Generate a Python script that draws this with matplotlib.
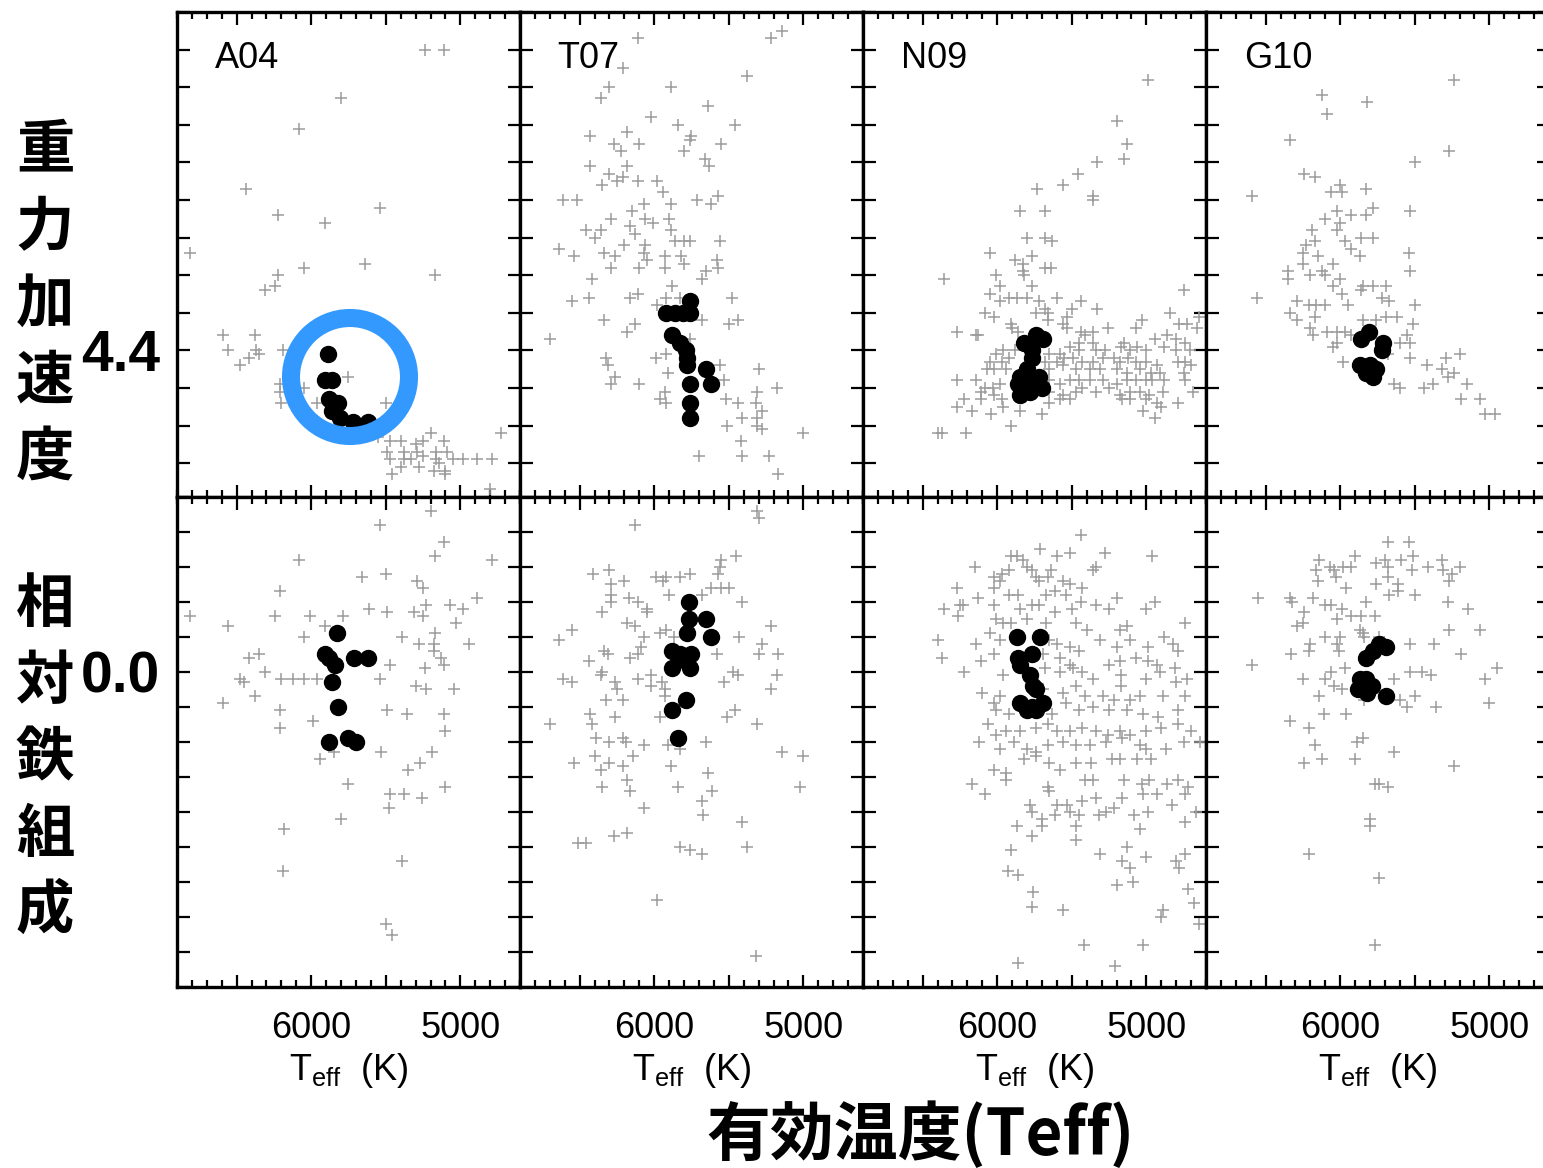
import numpy as np
import matplotlib
matplotlib.use('Agg')
import matplotlib.pyplot as plt
from matplotlib.patches import Ellipse
from matplotlib.ticker import MultipleLocator, FuncFormatter

plt.rcParams['font.family'] = ['Liberation Sans', 'DejaVu Sans']
plt.rcParams['mathtext.fontset'] = 'custom'
plt.rcParams['mathtext.rm'] = 'Liberation Sans'

# ---------------------------------------------------------------------------
# Samples: field stars (grey +) and solar twins (black dots)
# upper row: (Teff [K], log g), lower row: (Teff [K], [Fe/H])
# ---------------------------------------------------------------------------
SAMPLES = ['A04', 'T07', 'N09', 'G10']

a04_logg_field = [
    (5240, 3.60), (5110, 3.60), (5800, 3.73), (6080, 3.81), (6440, 3.97), (6220, 4.04),
    (5910, 4.06), (5540, 4.02), (6810, 4.14), (5640, 4.17), (5170, 4.20), (6050, 4.18),
    (6220, 4.20), (6240, 4.23), (6310, 4.24), (6590, 4.36), (6380, 4.36), (6560, 4.40),
    (6370, 4.40), (6350, 4.41), (6420, 4.42), (6480, 4.44), (6190, 4.40), (5750, 4.47),
    (6050, 4.50), (6210, 4.49), (6210, 4.51), (6200, 4.54), (5960, 4.54), (5500, 4.54),
    (5550, 4.63), (5470, 4.64), (5400, 4.64), (5300, 4.65), (5250, 4.64), (5200, 4.62),
    (5110, 4.64), (5490, 4.67), (5380, 4.67), (5290, 4.67), (5250, 4.68), (5160, 4.67),
    (5090, 4.67), (5470, 4.69), (5380, 4.69), (5330, 4.69), (5160, 4.69), (5140, 4.70),
    (5050, 4.69), (4980, 4.69), (4890, 4.69), (4790, 4.69), (4730, 4.62), (5400, 4.71),
    (5280, 4.71), (5180, 4.72), (5100, 4.72), (5460, 4.73), (5100, 4.73), (4800, 4.77),
]
a04_logg_twins = [
    (5890, 4.41), (5910, 4.48), (5860, 4.48), (5880, 4.53), (5820, 4.54), (5860, 4.56),
    (5810, 4.58), (5720, 4.59), (5620, 4.59),
]

t07_logg_field = [
    (6110, 3.57), (5220, 3.57), (5140, 3.55), (6210, 3.65), (5380, 3.67), (6300, 3.70),
    (5890, 3.70), (6360, 3.73), (5640, 3.75), (6020, 3.78), (5840, 3.80), (5460, 3.80),
    (6430, 3.83), (6180, 3.82), (5750, 3.83), (5760, 3.84), (6270, 3.85), (6100, 3.85),
    (5550, 3.85), (6220, 3.87), (5800, 3.87), (5660, 3.89), (6430, 3.91), (6180, 3.91),
    (5630, 3.91), (6300, 3.93), (6210, 3.94), (6250, 3.95), (6110, 3.95), (5980, 3.95),
    (6350, 3.96), (5940, 3.98), (5570, 3.99), (6610, 4.00), (6520, 4.00), (6070, 4.01),
    (5890, 4.01), (5710, 4.00), (5620, 4.01), (6150, 4.03), (6290, 4.05), (6060, 4.05),
    (6010, 4.06), (5900, 4.05), (6160, 4.07), (6130, 4.09), (6460, 4.08), (6360, 4.08),
    (5890, 4.08), (6400, 4.10), (6200, 4.12), (6060, 4.12), (5860, 4.11), (5800, 4.11),
    (5760, 4.11), (5560, 4.11), (6640, 4.13), (6340, 4.14), (6070, 4.14), (6540, 4.15),
    (6260, 4.15), (6050, 4.16), (5930, 4.15), (5820, 4.15), (5580, 4.16), (6290, 4.18),
    (6100, 4.18), (5930, 4.18), (5800, 4.17), (5570, 4.18), (5650, 4.19), (5680, 4.21),
    (6420, 4.21), (5880, 4.23), (6550, 4.27), (6440, 4.26), (6160, 4.26), (6110, 4.25),
    (5920, 4.26), (5830, 4.26), (5480, 4.26), (5980, 4.28), (6340, 4.32), (6130, 4.33),
    (5680, 4.32), (5500, 4.33), (5440, 4.32), (6180, 4.35), (6700, 4.37), (5760, 4.37),
    (5920, 4.41), (5990, 4.42), (6320, 4.42), (6310, 4.44), (6260, 4.47), (6290, 4.49),
    (6100, 4.49), (5910, 4.46), (5930, 4.51), (5560, 4.44), (5530, 4.48), (5300, 4.45),
    (5310, 4.51), (5180, 4.50), (5960, 4.53), (5920, 4.54), (5520, 4.53), (5440, 4.54),
    (5320, 4.54), (5280, 4.56), (5410, 4.58), (5310, 4.58), (5310, 4.60), (5280, 4.61),
    (5510, 4.60), (5000, 4.62), (5420, 4.64), (5700, 4.68), (5410, 4.68), (5230, 4.68),
    (5170, 4.73),
]
t07_logg_twins = [
    (5760, 4.27), (5920, 4.30), (5860, 4.30), (5810, 4.30), (5760, 4.30), (5880, 4.36),
    (5830, 4.38), (5790, 4.40), (5780, 4.42), (5780, 4.44), (5650, 4.45), (5760, 4.49),
    (5620, 4.49), (5760, 4.54), (5760, 4.58),
]

n09_logg_field = [
    (4990, 3.68), (5200, 3.79), (5130, 3.85), (5150, 3.89), (5330, 3.90), (5460, 3.93),
    (5560, 3.96), (5730, 3.97), (5360, 3.99), (5360, 4.00), (5850, 4.03), (5680, 4.03),
    (5800, 4.10), (5680, 4.10), (5630, 4.11), (6050, 4.14), (5770, 4.15), (5880, 4.16),
    (5830, 4.17), (5830, 4.19), (5820, 4.20), (5680, 4.18), (5640, 4.18), (6360, 4.21),
    (6010, 4.20), (5980, 4.23), (5770, 4.23), (6050, 4.25), (5920, 4.26), (5870, 4.26),
    (5800, 4.26), (5720, 4.27), (5600, 4.26), (5440, 4.27), (5980, 4.27), (6080, 4.30),
    (6020, 4.31), (5680, 4.29), (5740, 4.30), (5660, 4.30), (5660, 4.32), (5500, 4.29),
    (5330, 4.29), (5530, 4.31), (5260, 4.34), (5030, 4.32), (5070, 4.34), (4750, 4.24),
    (4840, 4.30), (4650, 4.31), (4780, 4.33), (4730, 4.33), (4660, 4.34), (6270, 4.35),
    (6140, 4.36), (6130, 4.36), (5910, 4.33), (5900, 4.34), (5860, 4.35), (5560, 4.33),
    (5530, 4.34), (5440, 4.35), (5410, 4.36), (5360, 4.35), (5450, 4.38), (5360, 4.38),
    (5150, 4.38), (4940, 4.37), (4860, 4.36), (4800, 4.37), (4740, 4.38), (4880, 4.39),
    (4800, 4.40), (4710, 4.40), (5170, 4.39), (5060, 4.39), (5110, 4.40), (5000, 4.40),
    (5510, 4.39), (5450, 4.40), (5340, 4.40), (5280, 4.40), (5580, 4.41), (5650, 4.41),
    (5960, 4.40), (6010, 4.41), (6050, 4.43), (5970, 4.43), (5920, 4.42), (5880, 4.40),
    (5680, 4.43), (5600, 4.43), (5550, 4.42), (5490, 4.42), (5430, 4.43), (5360, 4.43),
    (5290, 4.42), (5220, 4.42), (5180, 4.43), (5120, 4.42), (5070, 4.43), (5000, 4.43),
    (4930, 4.44), (4790, 4.43), (4740, 4.43), (4700, 4.44), (6070, 4.45), (6020, 4.45),
    (5940, 4.45), (5650, 4.45), (5560, 4.44), (5470, 4.45), (5380, 4.45), (5310, 4.45),
    (5200, 4.45), (5130, 4.46), (5040, 4.45), (4970, 4.46), (4910, 4.46), (4750, 4.46),
    (6270, 4.48), (6140, 4.48), (6080, 4.50), (6030, 4.50), (5980, 4.49), (5650, 4.48),
    (5580, 4.49), (5510, 4.48), (5450, 4.48), (5380, 4.48), (5290, 4.48), (5200, 4.49),
    (5130, 4.48), (5070, 4.48), (5000, 4.48), (4960, 4.48), (4880, 4.48), (4740, 4.48),
    (6110, 4.51), (6020, 4.52), (5970, 4.53), (5650, 4.51), (5560, 4.52), (5470, 4.51),
    (5430, 4.50), (5340, 4.51), (5250, 4.50), (5180, 4.52), (5110, 4.51), (5040, 4.51),
    (4980, 4.52), (4890, 4.51), (4690, 4.51), (6220, 4.53), (6270, 4.55), (6110, 4.53),
    (5960, 4.55), (5650, 4.54), (5580, 4.53), (5510, 4.53), (5160, 4.53), (5110, 4.53),
    (5000, 4.53), (4930, 4.54), (4790, 4.54), (6170, 4.56), (6040, 4.57), (5850, 4.56),
    (5700, 4.57), (5020, 4.56), (4900, 4.55), (4940, 4.58), (5910, 4.60), (6400, 4.62),
    (6370, 4.62), (6210, 4.62),
]
n09_logg_twins = [
    (5740, 4.36), (5690, 4.37), (5820, 4.38), (5770, 4.40), (5770, 4.42), (5800, 4.45),
    (5850, 4.47), (5720, 4.47), (5780, 4.48), (5860, 4.49), (5700, 4.50), (5850, 4.52),
    (5780, 4.51),
]

g10_logg_field = [
    (5240, 3.68), (6120, 3.72), (5820, 3.74), (6090, 3.77), (6340, 3.84), (5270, 3.87),
    (5500, 3.90), (6590, 3.99), (6240, 3.93), (6170, 3.94), (6000, 3.96), (6060, 3.98),
    (5990, 3.98), (5830, 3.97), (6020, 4.03), (5930, 4.04), (5830, 4.04), (5780, 4.02),
    (5530, 4.03), (6100, 4.05), (6000, 4.06), (6020, 4.08), (6190, 4.08), (6170, 4.11),
    (5970, 4.11), (5860, 4.10), (5780, 4.10), (5930, 4.13), (6230, 4.12), (6250, 4.14),
    (6150, 4.15), (5870, 4.15), (5540, 4.14), (6250, 4.17), (6050, 4.17), (6350, 4.19),
    (6350, 4.21), (6200, 4.20), (6120, 4.19), (6100, 4.20), (5530, 4.19), (6000, 4.21),
    (6050, 4.23), (5990, 4.25), (5850, 4.23), (5780, 4.23), (5690, 4.23), (5860, 4.24),
    (5720, 4.26), (5670, 4.27), (6560, 4.26), (6290, 4.27), (6210, 4.28), (6160, 4.28),
    (6100, 4.28), (5950, 4.28), (5500, 4.28), (6340, 4.30), (6290, 4.32), (6170, 4.31),
    (5850, 4.32), (5760, 4.32), (5690, 4.31), (5620, 4.31), (5510, 4.33), (6200, 4.34),
    (6180, 4.36), (6090, 4.35), (6020, 4.35), (5970, 4.35), (6050, 4.39), (6020, 4.38),
    (5930, 4.36), (5550, 4.36), (5530, 4.38), (5600, 4.38), (5980, 4.43), (5680, 4.41),
    (5530, 4.42), (5420, 4.44), (5290, 4.42), (5200, 4.41), (5320, 4.45), (5280, 4.47),
    (5240, 4.46), (5640, 4.49), (5600, 4.50), (5440, 4.50), (5380, 4.49), (5150, 4.49),
    (5190, 4.53), (5060, 4.53), (5030, 4.57), (4960, 4.57),
]
g10_logg_twins = [
    (5810, 4.35), (5860, 4.37), (5710, 4.38), (5720, 4.40), (5870, 4.44), (5800, 4.44),
    (5760, 4.45), (5780, 4.47), (5830, 4.46),
]

a04_feh_field = [
    (5200, 0.46), (5540, 0.42), (5110, 0.37), (5170, 0.33), (6080, 0.32), (4790, 0.32),
    (5660, 0.27), (5500, 0.28), (5290, 0.26), (5250, 0.24), (6210, 0.23), (4890, 0.21),
    (6810, 0.16), (6560, 0.13), (6240, 0.16), (6010, 0.16), (5790, 0.16), (5610, 0.18),
    (5490, 0.17), (5310, 0.17), (5250, 0.16), (5230, 0.19), (5070, 0.19), (4980, 0.18),
    (5030, 0.14), (5910, 0.13), (6050, 0.10), (5390, 0.10), (5280, 0.08), (5170, 0.11),
    (5180, 0.08), (4940, 0.08), (5180, 0.06), (5130, 0.04), (5110, 0.02), (6420, 0.04),
    (6350, 0.05), (5470, 0.02), (5240, 0.01), (6310, 0.00), (6480, -0.02), (6450, -0.03),
    (6200, -0.02), (6120, -0.02), (6050, -0.02), (5960, -0.02), (5540, -0.02), (5300, -0.04),
    (5230, -0.05), (5040, -0.05), (6380, -0.07), (6590, -0.09), (6210, -0.11), (5490, -0.11),
    (5360, -0.12), (5110, -0.12), (5100, -0.17), (5990, -0.14), (6210, -0.16), (5940, -0.25),
    (5850, -0.23), (5530, -0.23), (5350, -0.28), (5270, -0.26), (5190, -0.23), (5750, -0.32),
    (5470, -0.35), (5380, -0.35), (5260, -0.36), (5100, -0.33), (5480, -0.39), (5800, -0.42),
    (6180, -0.45), (6190, -0.57), (5390, -0.54), (5500, -0.72), (5460, -0.75),
]
a04_feh_twins = [
    (5830, 0.11), (5910, 0.05), (5880, 0.04), (5840, 0.02), (5710, 0.04), (5620, 0.04),
    (5860, -0.03), (5820, -0.10), (5880, -0.20), (5750, -0.19), (5700, -0.20),
]

t07_feh_field = [
    (5310, 0.46), (5300, 0.44), (6130, 0.42), (5550, 0.32), (5450, 0.33), (5560, 0.30),
    (5570, 0.28), (6410, 0.28), (6300, 0.29), (6290, 0.25), (6200, 0.26), (5990, 0.27),
    (5920, 0.27), (5940, 0.26), (5830, 0.27), (5760, 0.28), (5620, 0.24), (5550, 0.24),
    (5500, 0.24), (5900, 0.22), (5680, 0.22), (5410, 0.20), (6290, 0.22), (6290, 0.20),
    (6170, 0.21), (6110, 0.20), (6050, 0.18), (6050, 0.17), (6350, 0.17), (6180, 0.14),
    (6130, 0.13), (6550, 0.12), (6640, 0.09), (6070, 0.10), (5960, 0.11), (5920, 0.12),
    (5870, 0.10), (5430, 0.10), (5220, 0.13), (5280, 0.08), (5300, 0.05), (5170, 0.05),
    (5580, 0.05), (6090, 0.07), (6340, 0.06), (6310, 0.05), (6160, 0.04), (6110, 0.05),
    (6440, 0.03), (6350, 0.00), (6360, -0.01), (6610, -0.02), (6550, -0.03), (6260, -0.03),
    (6250, -0.05), (6110, -0.02), (6020, -0.01), (6020, -0.04), (5950, -0.03), (5930, -0.05),
    (5930, -0.07), (5530, -0.03), (5470, 0.00), (5440, -0.01), (5180, -0.01), (5220, -0.05),
    (6320, -0.08), (6210, -0.08), (6430, -0.12), (6420, -0.15), (6260, -0.13), (6700, -0.15),
    (5960, -0.13), (5510, -0.13), (5460, -0.11), (5310, -0.15), (6390, -0.19), (6300, -0.20),
    (6210, -0.19), (6190, -0.20), (6070, -0.21), (5910, -0.21), (5830, -0.22), (5650, -0.20),
    (5140, -0.23), (5000, -0.24), (6540, -0.26), (6400, -0.24), (6360, -0.28), (6300, -0.26),
    (6210, -0.27), (6140, -0.24), (5890, -0.27), (6180, -0.31), (6350, -0.33), (6160, -0.34),
    (5840, -0.33), (5640, -0.29), (5610, -0.34), (5020, -0.33), (5680, -0.37), (6070, -0.39),
    (5670, -0.41), (5410, -0.43), (6270, -0.47), (6180, -0.46), (6510, -0.49), (6460, -0.49),
    (5830, -0.50), (5760, -0.51), (5680, -0.52), (5380, -0.50), (5980, -0.65), (5320, -0.81),
]
t07_feh_twins = [
    (5770, 0.20), (5770, 0.15), (5650, 0.15), (5780, 0.11), (5620, 0.10), (5880, 0.06),
    (5830, 0.05), (5750, 0.05), (5790, 0.03), (5760, 0.01), (5880, 0.01), (5790, -0.08),
    (5880, -0.11), (5840, -0.19),
]

n09_feh_field = [
    (5440, 0.39), (5710, 0.35), (5600, 0.33), (5510, 0.34), (5280, 0.34), (4960, 0.33),
    (5910, 0.33), (5870, 0.33), (5830, 0.32), (6150, 0.30), (5920, 0.29), (5800, 0.30),
    (5770, 0.29), (5740, 0.27), (5640, 0.29), (5660, 0.27), (5360, 0.29), (5340, 0.30),
    (5970, 0.28), (6020, 0.27), (5980, 0.26), (5720, 0.26), (5560, 0.26), (5510, 0.25),
    (5430, 0.24), (6270, 0.24), (6020, 0.24), (5920, 0.22), (5860, 0.22), (5670, 0.22),
    (5610, 0.23), (5540, 0.22), (6250, 0.19), (6230, 0.19), (6360, 0.18), (6130, 0.21),
    (6020, 0.19), (5850, 0.18), (5770, 0.19), (5720, 0.19), (5610, 0.17), (5500, 0.18),
    (5440, 0.20), (5340, 0.19), (5250, 0.18), (5200, 0.21), (5000, 0.18), (4940, 0.20),
    (6260, 0.16), (6010, 0.15), (5960, 0.14), (5910, 0.14), (5800, 0.15), (5670, 0.14),
    (5470, 0.14), (5400, 0.12), (5180, 0.12), (5130, 0.13), (4740, 0.14), (6400, 0.09),
    (6140, 0.08), (6050, 0.11), (5980, 0.09), (5650, 0.09), (5600, 0.08), (5510, 0.07),
    (5450, 0.06), (5310, 0.09), (5200, 0.07), (5110, 0.09), (4990, 0.07), (4880, 0.10),
    (4820, 0.08), (4790, 0.06), (6370, 0.04), (6110, 0.03), (6020, 0.05), (5690, 0.05),
    (5580, 0.04), (5510, 0.02), (5250, 0.02), (5180, 0.03), (5070, 0.04), (4990, 0.03),
    (4930, 0.02), (4810, 0.01), (6220, 0.00), (5960, -0.01), (5680, 0.01), (5580, 0.00),
    (5490, 0.01), (5430, 0.00), (5360, -0.02), (5170, -0.01), (5000, -0.02), (4910, 0.00),
    (4800, -0.03), (4730, -0.02), (6100, -0.06), (5980, -0.07), (5690, -0.05), (5560, -0.06),
    (5470, -0.04), (5410, -0.07), (5290, -0.07), (5220, -0.08), (5170, -0.04), (5110, -0.08),
    (5040, -0.07), (4890, -0.07), (4740, -0.07), (6020, -0.09), (6010, -0.11), (5920, -0.12),
    (5630, -0.12), (5540, -0.09), (5450, -0.11), (5360, -0.10), (5250, -0.11), (5130, -0.11),
    (5020, -0.12), (4920, -0.13), (4790, -0.11), (6060, -0.15), (6010, -0.18), (5940, -0.17),
    (5850, -0.17), (5740, -0.16), (5660, -0.15), (5600, -0.17), (5510, -0.17), (5430, -0.16),
    (5340, -0.17), (5260, -0.18), (5180, -0.17), (5110, -0.18), (5000, -0.17), (4900, -0.16),
    (4790, -0.15), (4700, -0.17), (6120, -0.20), (5980, -0.22), (5890, -0.20), (5800, -0.22),
    (5740, -0.23), (5660, -0.21), (5560, -0.20), (5470, -0.21), (5380, -0.21), (5270, -0.20),
    (5160, -0.19), (5040, -0.21), (5000, -0.22), (4870, -0.22), (4750, -0.20), (4640, -0.20),
    (6020, -0.28), (5940, -0.29), (5820, -0.25), (5740, -0.24), (5650, -0.26), (5580, -0.28),
    (5470, -0.26), (5370, -0.26), (5230, -0.25), (5180, -0.25), (5060, -0.25), (4970, -0.25),
    (5940, -0.31), (6170, -0.32), (6080, -0.35), (5660, -0.33), (5410, -0.31), (5360, -0.31),
    (5150, -0.31), (5030, -0.32), (4980, -0.31), (4860, -0.32), (4790, -0.31), (4720, -0.33),
    (5650, -0.34), (5780, -0.38), (5600, -0.38), (5530, -0.38), (5430, -0.37), (5340, -0.36),
    (5270, -0.40), (5160, -0.36), (5020, -0.35), (4930, -0.35), (4830, -0.38), (4740, -0.35),
    (4670, -0.40), (5770, -0.40), (5700, -0.42), (5610, -0.41), (5510, -0.40), (5450, -0.41),
    (5320, -0.41), (5220, -0.39), (5080, -0.41), (4990, -0.40), (5870, -0.44), (5700, -0.44),
    (5470, -0.44), (5040, -0.45), (4740, -0.43), (5770, -0.47), (5470, -0.48), (5910, -0.51),
    (5310, -0.52), (5130, -0.50), (5000, -0.53), (4800, -0.54), (4740, -0.52), (5160, -0.54),
    (5110, -0.56), (5930, -0.57), (5860, -0.58), (5090, -0.60), (5200, -0.61), (4780, -0.56),
    (4720, -0.62), (5760, -0.63), (5770, -0.67), (5560, -0.68), (4680, -0.66), (4890, -0.68),
    (4900, -0.70), (4650, -0.72), (5420, -0.78), (5020, -0.78), (5860, -0.83), (5210, -0.84),
]
n09_feh_twins = [
    (5870, 0.10), (5710, 0.10), (5860, 0.04), (5770, 0.05), (5850, 0.02), (5780, -0.01),
    (5760, -0.04), (5740, -0.05), (5850, -0.09), (5770, -0.10), (5690, -0.09), (5800, -0.11),
    (5740, -0.11),
]

g10_feh_field = [
    (5680, 0.37), (5540, 0.37), (5510, 0.33), (6140, 0.32), (5900, 0.33), (5760, 0.31),
    (5700, 0.32), (5590, 0.32), (5320, 0.32), (6160, 0.29), (6070, 0.30), (6040, 0.29),
    (5980, 0.30), (5930, 0.30), (5680, 0.30), (5520, 0.29), (5410, 0.30), (5310, 0.29),
    (5200, 0.30), (5250, 0.28), (6150, 0.26), (6030, 0.27), (5760, 0.25), (5680, 0.27),
    (5610, 0.25), (5610, 0.23), (5500, 0.22), (5960, 0.24), (5270, 0.26), (6550, 0.21),
    (6340, 0.21), (6320, 0.20), (6180, 0.21), (6100, 0.19), (6060, 0.19), (5830, 0.20),
    (5670, 0.22), (5280, 0.20), (5140, 0.18), (5990, 0.18), (6020, 0.15), (6240, 0.17),
    (6250, 0.14), (5930, 0.16), (5860, 0.16), (5770, 0.16), (6290, 0.13), (5870, 0.12),
    (5850, 0.11), (5840, 0.10), (5740, 0.10), (5270, 0.12), (5060, 0.12), (6100, 0.10),
    (6000, 0.10), (6200, 0.08), (6210, 0.06), (6020, 0.08), (6010, 0.06), (6330, 0.05),
    (5530, 0.08), (5370, 0.08), (5190, 0.05), (6590, 0.02), (5970, 0.01), (6060, 0.00),
    (5530, 0.00), (5450, 0.00), (5390, -0.01), (6250, -0.02), (6100, -0.02), (5640, -0.02),
    (5030, -0.02), (4950, 0.01), (6040, -0.04), (5990, -0.05), (6140, -0.07), (5600, -0.08),
    (5550, -0.10), (5500, -0.07), (5360, -0.10), (5000, -0.09), (5840, -0.08), (6340, -0.14),
    (6110, -0.12), (5960, -0.12), (6210, -0.16), (5890, -0.20), (5850, -0.19), (6170, -0.21),
    (6240, -0.26), (6120, -0.25), (5900, -0.25), (5640, -0.23), (5240, -0.27), (5770, -0.32),
    (5740, -0.32), (5680, -0.33), (5800, -0.42), (5800, -0.44), (6210, -0.52), (5740, -0.59),
    (5770, -0.78),
]
g10_feh_twins = [
    (5740, 0.08), (5690, 0.07), (5780, 0.06), (5830, 0.04), (5870, -0.02), (5830, -0.02),
    (5790, -0.04), (5880, -0.05), (5820, -0.06), (5690, -0.07),
]

LOGG_PANELS = [(a04_logg_field, a04_logg_twins), (t07_logg_field, t07_logg_twins),
               (n09_logg_field, n09_logg_twins), (g10_logg_field, g10_logg_twins)]
FEH_PANELS = [(a04_feh_field, a04_feh_twins), (t07_feh_field, t07_feh_twins),
              (n09_feh_field, n09_feh_twins), (g10_feh_field, g10_feh_twins)]

TEFF_LIM = (6900, 4600)
LOGG_LIM = (4.79, 3.50)     # log g grows downward
FEH_LIM = (-0.90, 0.50)
LOGG_LABEL = 4.4
FEH_LABEL = 0.0

W, H = 1543, 1168
fig = plt.figure(figsize=(W / 100, H / 100), dpi=100)

# panel geometry in pixels
PANEL_X = [177, 520, 863, 1206]
PANEL_W = 343
ROWS = [(12, 497), (497, 987)]


def teff_fmt(v, _):
    return '%d' % round(v) if round(v) % 1000 == 0 else ''


def only_label(target):
    return FuncFormatter(lambda v, _: '%.1f' % target if abs(v - target) < 1e-6 else '')


def draw_panel(ax, field, twins, ylim):
    f = np.array(field)
    t = np.array(twins)
    ax.plot(f[:, 0], f[:, 1], ls='none', marker='+', ms=9, mew=1.1, color='#9b9b9b')
    ax.plot(t[:, 0], t[:, 1], ls='none', marker='o', ms=11.5, color='black', mec='black')
    ax.set_xlim(*TEFF_LIM)
    ax.set_ylim(*ylim)
    ax.xaxis.set_major_locator(MultipleLocator(500))
    ax.xaxis.set_minor_locator(MultipleLocator(100))
    ax.yaxis.set_major_locator(MultipleLocator(0.1))
    ax.tick_params(which='both', direction='in', top=True, right=True, width=1.6,
                   labelleft=False, labelbottom=False)
    ax.tick_params(which='major', length=9)
    ax.tick_params(which='minor', length=5)
    for sp in ax.spines.values():
        sp.set_linewidth(2.4)


for row, (panels, ylim, ylab) in enumerate([(LOGG_PANELS, LOGG_LIM, LOGG_LABEL),
                                             (FEH_PANELS, FEH_LIM, FEH_LABEL)]):
    top, bot = ROWS[row]
    for col, (field, twins) in enumerate(panels):
        ax = fig.add_axes([PANEL_X[col] / W, 1 - bot / H, PANEL_W / W, (bot - top) / H])
        draw_panel(ax, field, twins, ylim)
        if row == 0:
            ax.text(0.11, 0.905, SAMPLES[col], transform=ax.transAxes, fontsize=26,
                    ha='left', va='center')
        else:
            ax.tick_params(axis='x', which='major', labelbottom=True, labelsize=26, pad=17)
            ax.xaxis.set_major_formatter(FuncFormatter(teff_fmt))
            ax.set_xlabel(r'T$_{\mathregular{eff}}$  (K)', fontsize=26, labelpad=4)
        if col == 0:
            ax.tick_params(axis='y', labelleft=True, labelsize=41, pad=12)
            ax.yaxis.set_major_formatter(only_label(ylab))
            for lb in ax.get_yticklabels():
                lb.set_fontweight('bold')

# highlight ring around the A04 twins
ring = Ellipse((350 / W, 1 - 377 / H), 118 / W, 118 / H, transform=fig.transFigure,
               fill=False, ec='#3399ff', lw=13, zorder=20)
fig.add_artist(ring)

# vertical Japanese axis titles
cjk = ['Noto Sans CJK JP', 'DejaVu Sans']
for chars, ys in [('重力加速度', [150, 228, 305, 381, 458]),
                  ('相対鉄組成', [605, 682, 758, 835, 911])]:
    for ch, y in zip(chars, ys):
        fig.text(45 / W, 1 - y / H, ch, family=cjk, fontsize=42, fontweight='bold',
                 ha='center', va='center')

fig.text(920 / W, 1 - 1135 / H, '有効温度(Teff)', family=cjk, fontsize=46,
         fontweight='bold', ha='center', va='center')

fig.savefig('out.png', dpi=100)
